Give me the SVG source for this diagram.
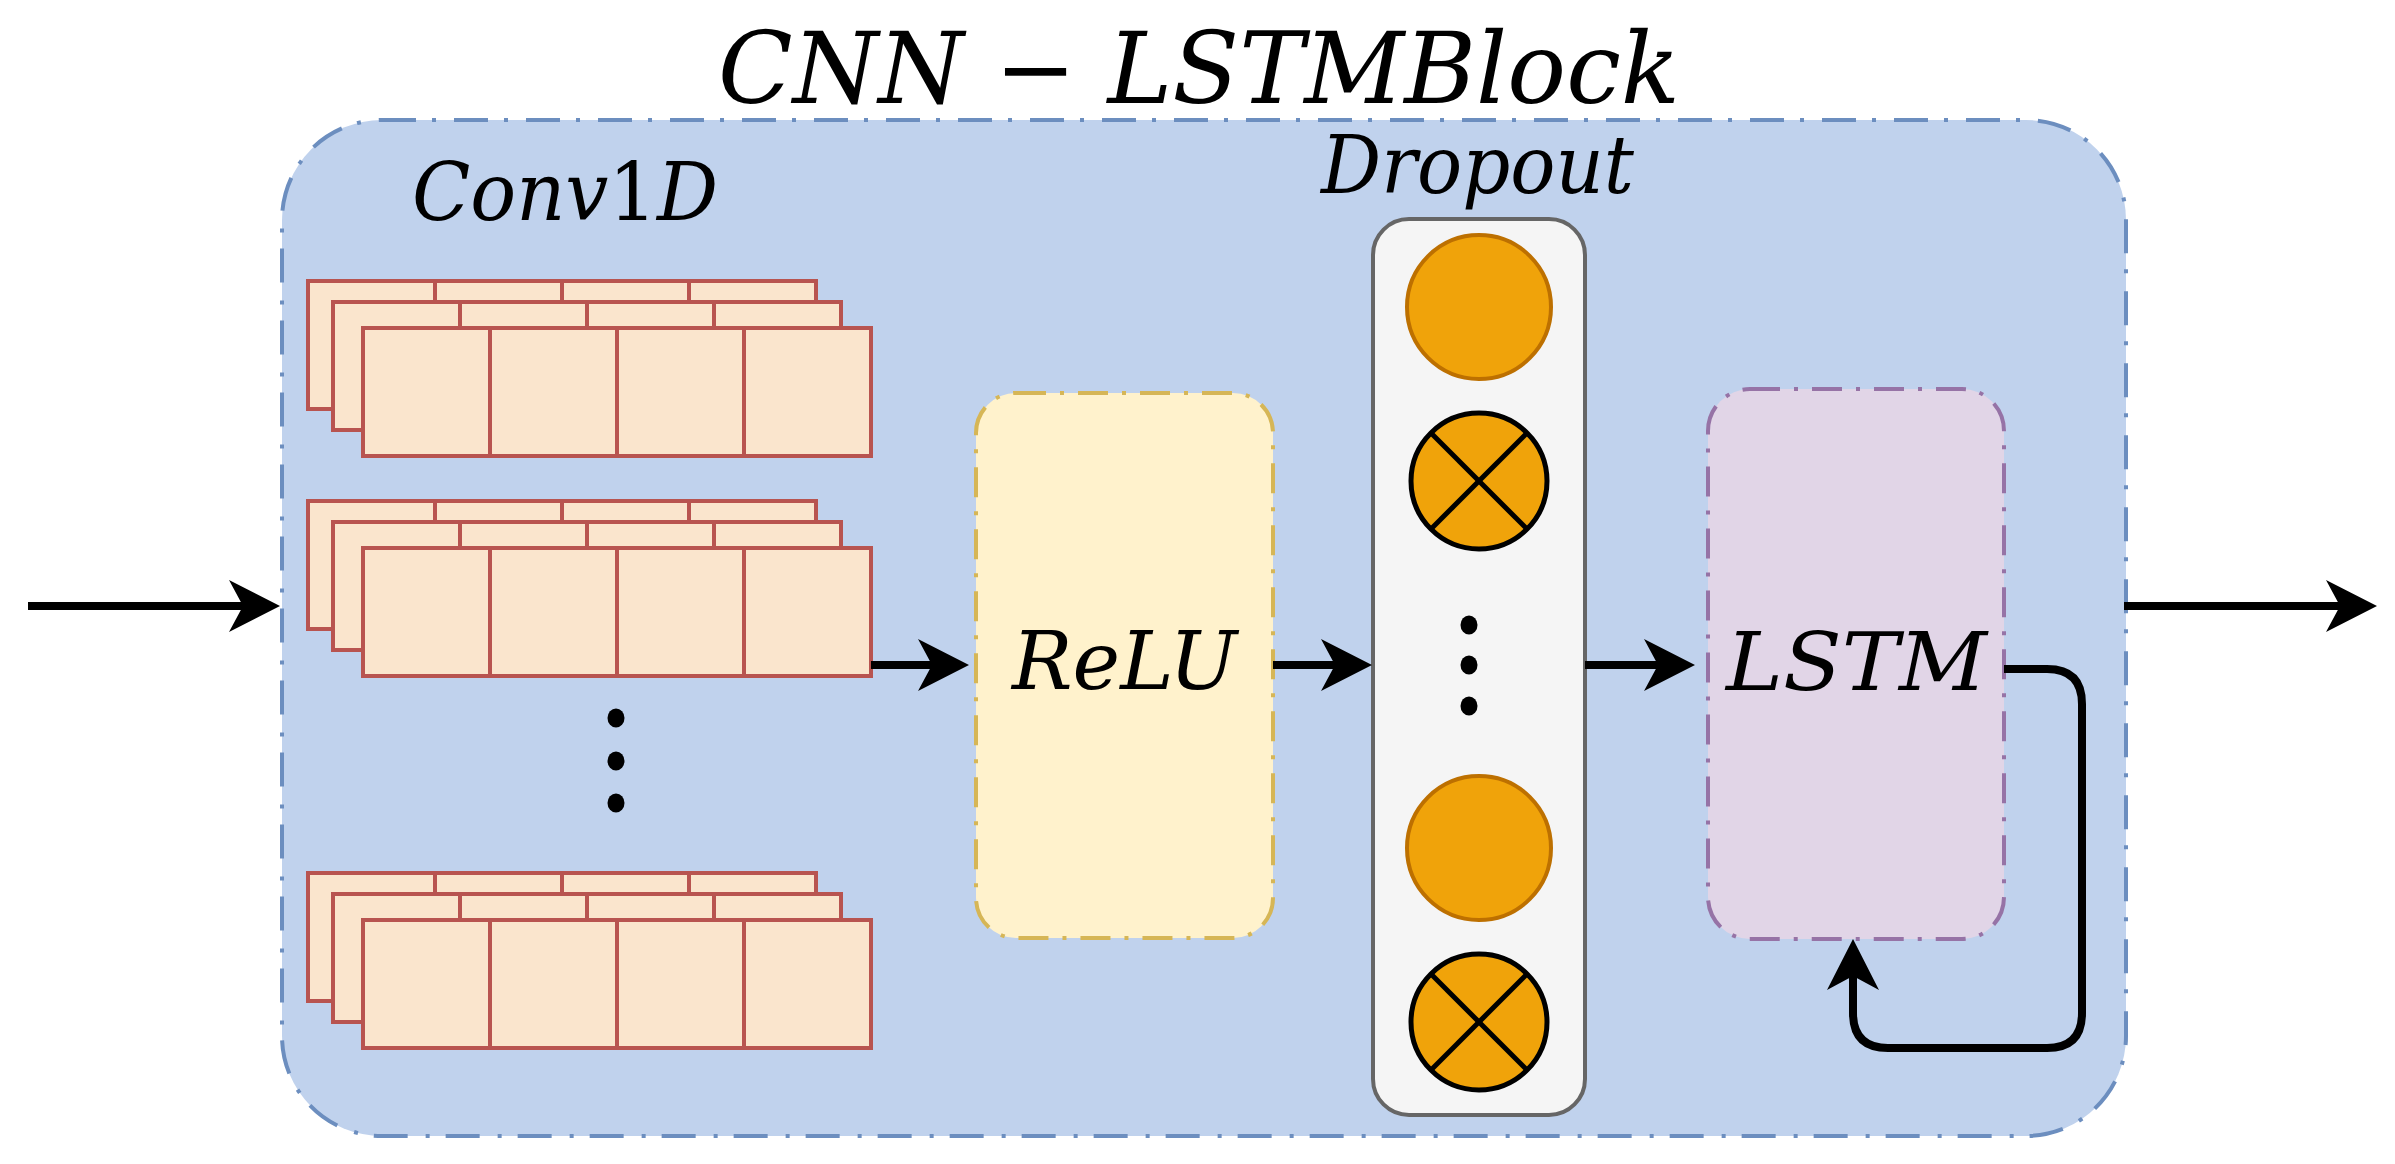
<svg xmlns="http://www.w3.org/2000/svg" xmlns:xlink="http://www.w3.org/1999/xlink" width="2395" height="1164" viewBox="0 0 2395 1164">
<style>
.lbl{font-family:"DejaVu Serif","Liberation Serif",serif;font-style:italic;fill:#000}
.up{font-style:normal}
.cell{fill:#fae5cd;stroke:#b85450;stroke-width:4}
.edge{fill:none;stroke:#000;stroke-width:8}
.dot{fill:#000}
.orange{fill:#f0a30a;stroke:#bd7000;stroke-width:4}
.xcirc{fill:#f0a30a;stroke:#000;stroke-width:5}
.xline{stroke:#000;stroke-width:5}
</style>
<defs>
<marker id="arr" viewBox="-52 -27 53 54" refX="-30" refY="0" markerWidth="53" markerHeight="54" orient="auto" markerUnits="userSpaceOnUse">
<path d="M0,0 L-51,-26 L-37,0 L-51,26 Z" fill="#000"/>
</marker>
<g id="layer">
<rect class="cell" x="0" y="0" width="127" height="128"/>
<rect class="cell" x="127" y="0" width="127" height="128"/>
<rect class="cell" x="254" y="0" width="127" height="128"/>
<rect class="cell" x="381" y="0" width="127" height="128"/>
</g>
<g id="stack">
<use xlink:href="#layer" x="308" y="281"/>
<use xlink:href="#layer" x="333" y="302"/>
<use xlink:href="#layer" x="363" y="328"/>
</g>
</defs>
<rect width="2395" height="1164" fill="#fff"/>

<g id="block">
<rect x="282" y="120" width="1844" height="1016" rx="100" ry="100" fill="#c0d2ed" stroke="#6c8ebf" stroke-width="4" stroke-dasharray="34 16 4 18"/>
<text class="lbl" x="718" y="103" font-size="100" textLength="962" lengthAdjust="spacingAndGlyphs">CNN <tspan class="up">−</tspan> LSTMBlock</text>
</g>

<g id="conv1d">
<text class="lbl" x="412" y="220" font-size="80" textLength="306" lengthAdjust="spacingAndGlyphs">Conv<tspan class="up">1</tspan>D</text>
<use xlink:href="#stack"/>
<use xlink:href="#stack" y="220"/>
<use xlink:href="#stack" y="592"/>
<ellipse class="dot" cx="616" cy="718" rx="8.5" ry="9.5"/>
<ellipse class="dot" cx="616" cy="761" rx="8.5" ry="9.5"/>
<ellipse class="dot" cx="616" cy="803" rx="8.5" ry="9.5"/>
</g>

<g id="relu">
<rect x="976" y="393" width="297" height="545" rx="40" ry="40" fill="#fff2cc" stroke="#d6b656" stroke-width="4" stroke-dasharray="30 14 4 14"/>
<text class="lbl" x="1012" y="689" font-size="80" textLength="225" lengthAdjust="spacingAndGlyphs">ReLU</text>
</g>

<g id="dropout">
<text class="lbl" x="1321" y="193" font-size="80" textLength="313" lengthAdjust="spacingAndGlyphs">Dropout</text>
<rect x="1373" y="219" width="212" height="896" rx="36" ry="36" fill="#f5f5f5" stroke="#666" stroke-width="4"/>
<circle class="orange" cx="1479" cy="307" r="72"/>
<circle class="xcirc" cx="1479" cy="481" r="68"/>
<line class="xline" x1="1431" y1="433" x2="1527" y2="529"/>
<line class="xline" x1="1527" y1="433" x2="1431" y2="529"/>
<ellipse class="dot" cx="1469" cy="625" rx="8.5" ry="9.5"/>
<ellipse class="dot" cx="1469" cy="665" rx="8.5" ry="9.5"/>
<ellipse class="dot" cx="1469" cy="706" rx="8.5" ry="9.5"/>
<circle class="orange" cx="1479" cy="848" r="72"/>
<circle class="xcirc" cx="1479" cy="1022" r="68"/>
<line class="xline" x1="1431" y1="974" x2="1527" y2="1070"/>
<line class="xline" x1="1527" y1="974" x2="1431" y2="1070"/>
</g>

<g id="lstm">
<rect x="1708" y="389" width="296" height="550" rx="42" ry="42" fill="#e1d5e7" stroke="#9673a6" stroke-width="4" stroke-dasharray="30 14 4 14"/>
<text class="lbl" x="1726" y="690" font-size="80" textLength="261" lengthAdjust="spacingAndGlyphs">LSTM</text>
</g>

<g id="connectors">
<path class="edge" d="M28,606 H250" marker-end="url(#arr)"/>
<path class="edge" d="M871,665 H939" marker-end="url(#arr)"/>
<path class="edge" d="M1273,665 H1342" marker-end="url(#arr)"/>
<path class="edge" d="M1585,665 H1665" marker-end="url(#arr)"/>
<path class="edge" d="M2124,606 H2347" marker-end="url(#arr)"/>
<path class="edge" d="M2004,669 H2047 Q2082,669 2082,704 V1013 Q2082,1048 2047,1048 H1888 Q1853,1048 1853,1013 V969" marker-end="url(#arr)"/>
</g>
</svg>
